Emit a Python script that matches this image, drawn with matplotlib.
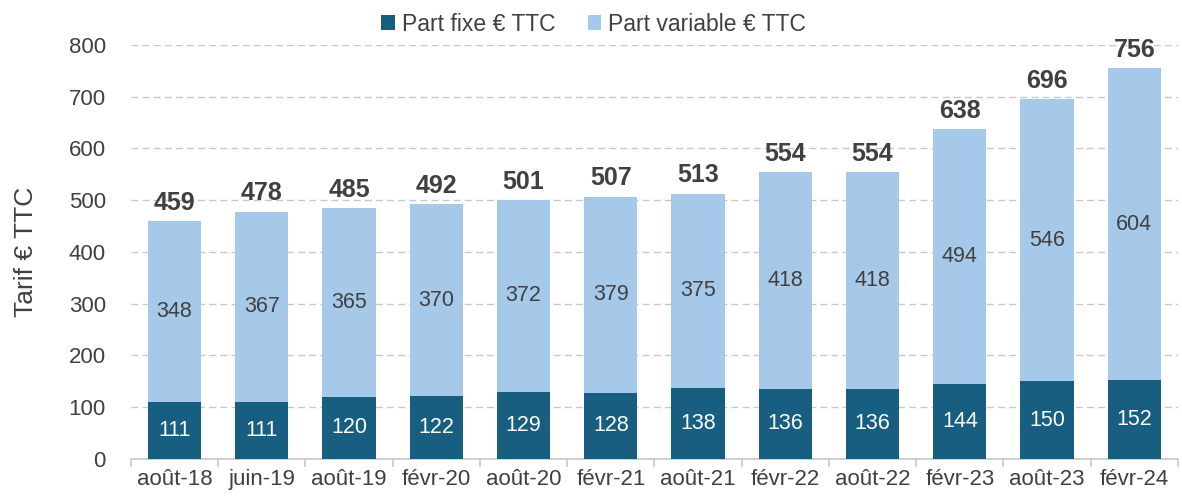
import matplotlib
matplotlib.use("Agg")
import matplotlib.pyplot as plt
import numpy as np

categories = ["août-18", "juin-19", "août-19", "févr-20", "août-20", "févr-21",
              "août-21", "févr-22", "août-22", "févr-23", "août-23", "févr-24"]
part_fixe = [111, 111, 120, 122, 129, 128, 138, 136, 136, 144, 150, 152]
part_variable = [348, 367, 365, 370, 372, 379, 375, 418, 418, 494, 546, 604]
totals = [459, 478, 485, 492, 501, 507, 513, 554, 554, 638, 696, 756]

plt.rcParams['font.family'] = ['Liberation Sans', 'DejaVu Sans']

dark = "#175e80"
light = "#a6c9ea"
txt = "#404040"

fig = plt.figure(figsize=(11.82, 4.97), dpi=100)
ax = fig.add_axes([0.1108, 0.0765, 0.8858, 0.833])

x = np.arange(len(categories))
w = 0.61
ax.bar(x, part_fixe, w, color=dark, label="Part fixe € TTC", zorder=3)
ax.bar(x, part_variable, w, bottom=part_fixe, color=light,
       label="Part variable € TTC", zorder=3)

for i in range(len(categories)):
    ax.text(x[i], part_fixe[i] / 2, str(part_fixe[i]), ha="center", va="center",
            color="white", fontsize=15.5, zorder=4)
    ax.text(x[i], part_fixe[i] + part_variable[i] / 2, str(part_variable[i]),
            ha="center", va="center", color=txt, fontsize=15.5, zorder=4)
    ax.text(x[i], totals[i] + 12, str(totals[i]), ha="center", va="bottom",
            color=txt, fontsize=18, fontweight="bold", zorder=4, clip_on=False)

ax.set_xlim(-0.5, len(categories) - 0.5)
ax.set_ylim(0, 800)
ax.set_yticks(range(0, 801, 100))
ax.set_xticks(x)
ax.set_xticklabels(categories)
ax.set_xticks(np.arange(-0.5, len(categories), 1), minor=True)
ax.tick_params(axis="x", which="major", length=0, labelsize=16, labelcolor=txt, pad=7)
ax.tick_params(axis="x", which="minor", length=6, color="#c8c8c8", width=1.2)
ax.tick_params(axis="y", length=0, labelsize=16, labelcolor=txt, pad=18)

ax.grid(axis="y", color="#c8c8c8", linestyle=(0, (5, 3)), linewidth=1, zorder=0)
for s in ["top", "right", "left"]:
    ax.spines[s].set_visible(False)
ax.spines["bottom"].set_color("#c8c8c8")
ax.spines["bottom"].set_linewidth(1.2)

ax.set_ylabel("Tarif € TTC", fontsize=19, color=txt, labelpad=22)

ax.legend(loc="lower center", bbox_to_anchor=(0.442, 1.0), ncol=2, frameon=False,
          fontsize=16.5, handlelength=0.6, handleheight=0.6, handletextpad=0.3,
          columnspacing=1.4, labelcolor=txt, borderaxespad=0.0)

fig.savefig("out.png", dpi=100)
